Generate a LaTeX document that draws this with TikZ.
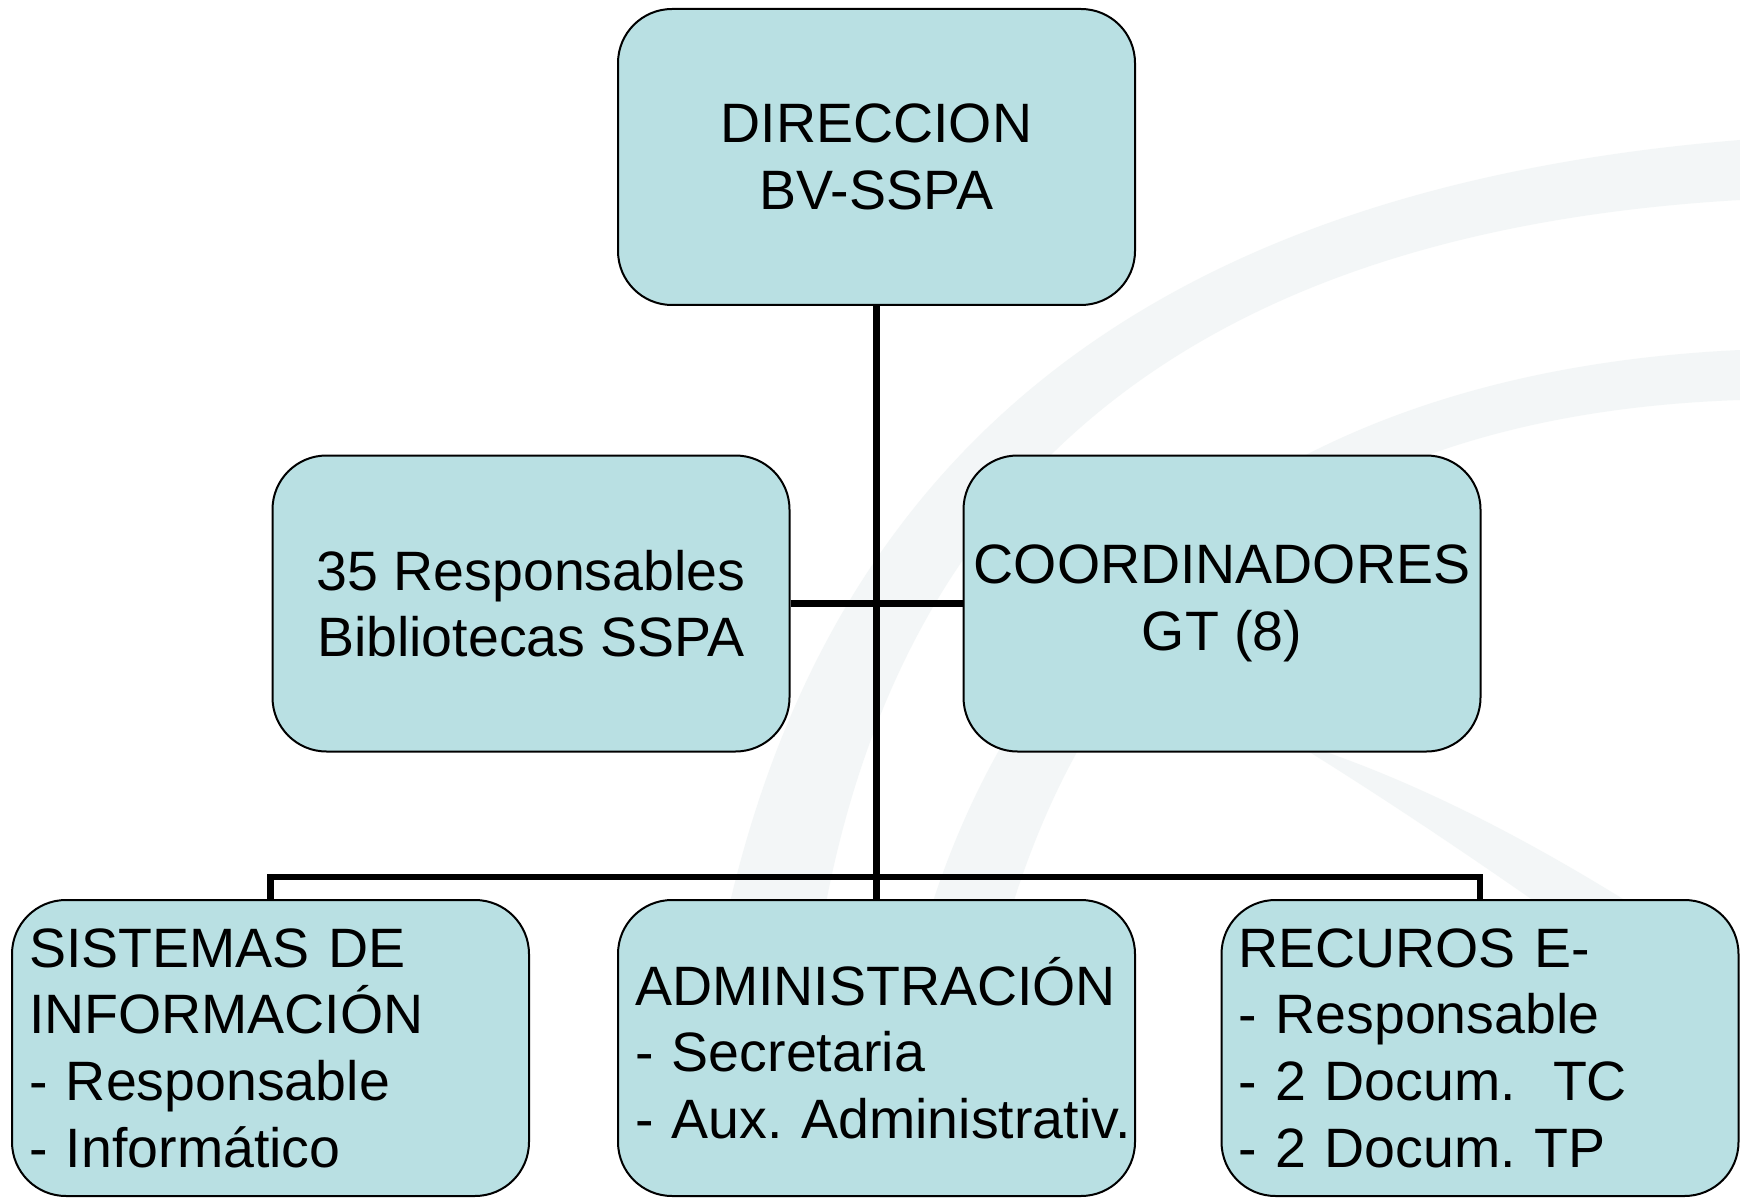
\documentclass[tikz,border=0pt]{standalone}
\usepackage{fontspec}
\setmainfont{Liberation Sans}
\definecolor{boxfill}{RGB}{185,224,227}
\definecolor{bgarc}{RGB}{226,234,235}
\newcommand\orgboxfont{\fontsize{27.75pt}{33.3pt}\selectfont\frenchspacing\hyphenpenalty=10000\relax\exhyphenpenalty=10000\relax}
\tikzset{
  orgbox/.style={draw=black, line width=1pt, fill=boxfill, rounded corners=27pt,
    minimum width=258.5pt, minimum height=148pt, inner xsep=8.5pt, inner ysep=0pt,
    font=\orgboxfont},
  ctrbox/.style={orgbox, inner xsep=3pt, align=center},
  lftbox/.style={orgbox, align=left, text width=241.5pt},
  link/.style={draw=black, line width=3.4pt},
  swoosh/.style={fill=bgarc, draw=none, opacity=0.4}
}
\begin{document}
\begin{tikzpicture}[x=0.5pt, y=-0.5pt]
\useasboundingbox (0,0) rectangle (1740,1198);
\fill[white] (0,0) rectangle (1740,1198);
% background swooshes
\fill[swoosh] (690,1198) .. controls (720,600) and (1000,200) .. (1740,140)
  -- (1740,200) .. controls (1050,240) and (800,620) .. (800,1198) -- cycle;
\fill[swoosh] (880,1198) .. controls (900,800) and (1100,380) .. (1740,350)
  -- (1740,400) .. controls (1150,420) and (990,800) .. (960,1198) -- cycle;
\fill[swoosh] (1290,740) .. controls (1450,790) and (1600,880) .. (1740,975)
  -- (1740,1050) .. controls (1580,930) and (1420,820) .. (1290,740) -- cycle;
% nodes
\node[ctrbox] (dir) at (876.5,157) {DIRECCION\\BV-SSPA};
\node[ctrbox] (resp) at (531,603.5) {35 Responsables\\Bibliotecas SSPA};
\node[ctrbox] (coord) at (1222,603.5) {COORDINADORES\\GT (8)};
\node[lftbox] (sist) at (270.5,1048) {SISTEMAS DE\\INFORMACIÓN\\- Responsable\\- Informático};
\node[lftbox] (adm) at (876.5,1048) {ADMINISTRACIÓN\\- Secretaria\\-~Aux.~Administrativ.};
\node[lftbox] (rec) at (1480,1048) {RECUROS E-\\- Responsable\\- 2 Docum.~~TC\\- 2 Docum. TP};
% connectors
\draw[link] (dir.south) -- (adm.north);
\draw[link] (resp.east) -- (coord.west);
\draw[link] (sist.north) -- ++(0,-22) -| (rec.north);
\end{tikzpicture}
\end{document}
